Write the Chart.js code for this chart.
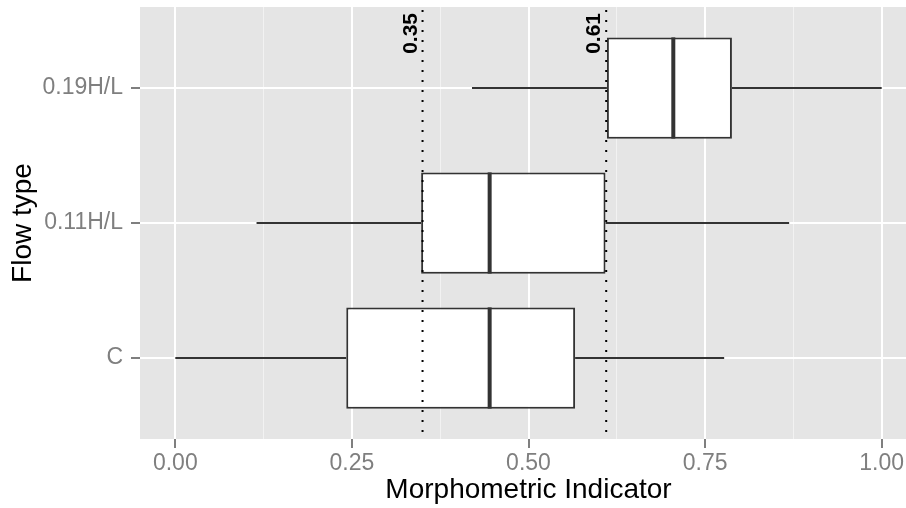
<!DOCTYPE html>
<html>
<head>
<meta charset="utf-8">
<script src="https://cdn.jsdelivr.net/npm/chart.js@4/dist/chart.umd.min.js"></script>
<style>
html, body { margin:0; padding:0; overflow:hidden; background:#fff; }
#wrap { width:925px; height:508px; }
</style>
</head>
<body>
<div id="wrap"><canvas id="myChart"></canvas></div>
<script>
// flow types, bottom to top
var cats = ["C", "0.11H/L", "0.19H/L"];
// box plot stats per flow type
var mins    = [0.000, 0.115, 0.420];
var q1s     = [0.242, 0.348, 0.611];
var medians = [0.445, 0.445, 0.705];
var q3s     = [0.566, 0.609, 0.788];
var maxs    = [0.777, 0.869, 1.000];
// dotted reference lines
var refLines = [0.35, 0.61];
// x axis ticks
var xMajor = [0, 0.25, 0.5, 0.75, 1];
var xMinor = [0.125, 0.375, 0.625, 0.875];

var FONT = "'Liberation Sans', Arial, Helvetica, sans-serif";
var INK = "#333333";

var boxData = [];
for (var i = 0; i < cats.length; i++) {
    boxData.push({ x: [q1s[i], q3s[i]], y: i + 1 });
}

var panelBg = {
    id: "panelBg",
    beforeDraw: function(chart) {
        var a = chart.chartArea, ctx = chart.ctx;
        ctx.save();
        ctx.fillStyle = "#E5E5E5";
        ctx.fillRect(a.left, a.top, a.right - a.left, a.bottom - a.top);
        ctx.restore();
    }
};

var boxParts = {
    id: "boxParts",
    beforeDatasetsDraw: function(chart) {
        var ctx = chart.ctx, xs = chart.scales.x, ys = chart.scales.y;
        ctx.save();
        ctx.strokeStyle = INK;
        ctx.lineWidth = 2;
        for (var i = 0; i < cats.length; i++) {
            var y = ys.getPixelForValue(i + 1);
            ctx.beginPath();
            ctx.moveTo(xs.getPixelForValue(mins[i]), y);
            ctx.lineTo(xs.getPixelForValue(q1s[i]), y);
            ctx.moveTo(xs.getPixelForValue(q3s[i]), y);
            ctx.lineTo(xs.getPixelForValue(maxs[i]), y);
            ctx.stroke();
        }
        ctx.restore();
    },
    afterDatasetsDraw: function(chart) {
        var ctx = chart.ctx, xs = chart.scales.x, ys = chart.scales.y, a = chart.chartArea;
        var meta = chart.getDatasetMeta(0);
        ctx.save();
        // medians
        ctx.strokeStyle = INK;
        ctx.lineWidth = 4;
        for (var i = 0; i < cats.length; i++) {
            var bar = meta.data[i];
            var half = bar.height / 2;
            var x = xs.getPixelForValue(medians[i]);
            ctx.beginPath();
            ctx.moveTo(x, bar.y - half);
            ctx.lineTo(x, bar.y + half);
            ctx.stroke();
        }
        // dotted reference lines and their labels
        ctx.strokeStyle = "#000";
        ctx.lineWidth = 2;
        ctx.setLineDash([2, 8]);
        ctx.fillStyle = "#000";
        ctx.font = "bold 21px " + FONT;
        for (var j = 0; j < refLines.length; j++) {
            var rx = xs.getPixelForValue(refLines[j]);
            ctx.beginPath();
            ctx.moveTo(rx, a.top + 3);
            ctx.lineTo(rx, a.bottom);
            ctx.stroke();
            ctx.save();
            ctx.translate(rx - 6, a.top + 6);
            ctx.rotate(-Math.PI / 2);
            ctx.textAlign = "right";
            ctx.textBaseline = "alphabetic";
            ctx.fillText(refLines[j].toFixed(2), 0, 0);
            ctx.restore();
        }
        ctx.restore();
    }
};

var ctx = document.getElementById("myChart");
var myChart = new Chart(ctx, {
    type: "bar",
    data: {
        datasets: [{
            data: boxData,
            backgroundColor: "#FFFFFF",
            borderColor: INK,
            borderWidth: 2,
            borderSkipped: false,
            barPercentage: 0.75,
            categoryPercentage: 1
        }]
    },
    options: {
        indexAxis: "y",
        responsive: true,
        maintainAspectRatio: false,
        animation: false,
        layout: { padding: { top: 7, right: 8, left: 0, bottom: 0 } },
        plugins: { legend: { display: false }, tooltip: { enabled: false } },
        scales: {
            x: {
                type: "linear",
                min: -0.05,
                max: 1.05,
                afterBuildTicks: function(s) {
                    s.ticks = xMajor.concat(xMinor).sort(function(a, b) { return a - b; })
                        .map(function(v) { return { value: v }; });
                },
                afterFit: function(s) { s.height = 69; s.paddingLeft = 0; s.paddingRight = 0; },
                border: { display: false },
                grid: {
                    color: function(c) { return xMinor.indexOf(c.tick && c.tick.value) >= 0 ? "#F2F2F2" : "#FFFFFF"; },
                    lineWidth: function(c) { return xMinor.indexOf(c.tick && c.tick.value) >= 0 ? 1 : 2; },
                    tickColor: function(c) { return xMinor.indexOf(c.tick && c.tick.value) >= 0 ? "rgba(0,0,0,0)" : "#7F7F7F"; },
                    tickWidth: 2,
                    tickLength: 9
                },
                ticks: {
                    autoSkip: false,
                    maxRotation: 0,
                    padding: 2,
                    color: "#7F7F7F",
                    font: { family: FONT, size: 23 },
                    callback: function(v) { return xMajor.indexOf(v) >= 0 ? v.toFixed(2) : ""; }
                },
                title: {
                    display: true,
                    text: "Morphometric Indicator",
                    color: "#000",
                    font: { family: FONT, size: 28 },
                    padding: { top: 0, bottom: 1 }
                }
            },
            y: {
                type: "linear",
                min: 0.4,
                max: 3.6,
                offset: false,
                afterBuildTicks: function(s) {
                    s.ticks = cats.map(function(c, i) { return { value: i + 1 }; });
                },
                afterFit: function(s) { s.width = 140; s.paddingTop = 0; s.paddingBottom = 0; },
                border: { display: false },
                grid: {
                    offset: false,
                    color: "#FFFFFF",
                    lineWidth: 2,
                    tickColor: "#7F7F7F",
                    tickWidth: 2,
                    tickLength: 9
                },
                ticks: {
                    padding: 8,
                    color: "#7F7F7F",
                    font: { family: FONT, size: 23 },
                    callback: function(v) { return cats[v - 1]; }
                },
                title: {
                    display: true,
                    text: "Flow type",
                    color: "#000",
                    font: { family: FONT, size: 28 },
                    padding: { top: 6, bottom: 0 }
                }
            }
        }
    },
    plugins: [panelBg, boxParts]
});
</script>
</body>
</html>
